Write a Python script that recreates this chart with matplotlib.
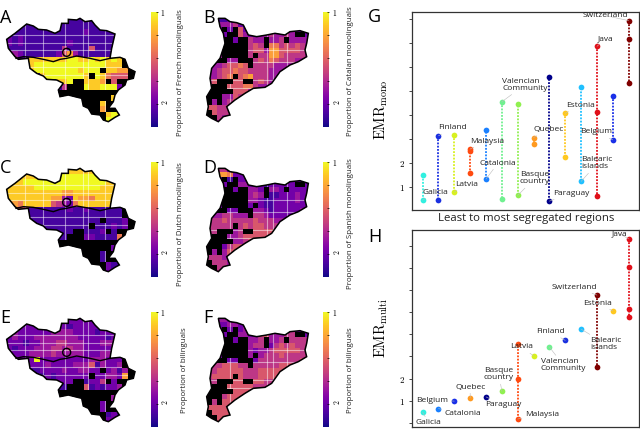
import matplotlib
matplotlib.use("Agg")
import matplotlib.pyplot as plt
import numpy as np
from matplotlib.cm import ScalarMappable
from matplotlib.colors import Normalize
from matplotlib.patches import Polygon, Circle

plt.rcParams['font.family'] = ['Open Sans', 'DejaVu Sans']
plt.rcParams['mathtext.fontset'] = 'cm'

# outlines, in map units
belgium = [(20,118),(45,100),(80,72),(100,78),(115,88),(140,90),(165,100),(180,92),(185,70),(205,70),(205,58),
           (230,60),(240,55),(255,65),(275,62),(285,75),(300,90),(320,92),(345,102),(335,145),(330,175),(360,172),
           (375,178),(385,205),(405,215),(400,235),(380,240),(375,255),(355,270),(345,285),(340,305),(325,325),
           (345,325),(358,345),(345,352),(325,365),(310,360),(300,345),(275,342),(265,325),(250,318),(245,295),
           (225,290),(205,285),(180,290),(175,270),(190,250),(170,240),(140,238),(130,228),(110,220),(90,205),
           (85,175),(55,178),(45,170),(25,145)]
lang_border = [(48,175),(70,170),(100,172),(130,178),(160,185),(180,178),(200,175),(230,168),(270,175),(300,182),(330,175)]
catalonia = [(85,55),(105,55),(120,65),(140,68),(160,75),(175,105),(200,110),(230,105),(255,100),(285,105),(300,95),
             (330,92),(355,100),(350,130),(345,150),(350,170),(325,185),(300,195),(270,215),(245,250),(225,262),
             (190,265),(165,280),(135,300),(110,320),(120,345),(100,350),(85,365),(65,355),(50,345),(55,320),
             (50,290),(65,265),(60,235),(65,205),(90,175),(105,130),(100,100),(90,80)]

# '#' = no data (black)
bel_mask = ["........................"] * 7 + [
    ".....................###",
    ".....................###",
    ".................#....##",
    "...............#......##",
    "............##....#.####",
    "...........###.......###",
    "########################",
    "###################.####",
    "#################.######",
    "#################.######",
    "##################...###",
    "##################...###"]
cat_mask = ["...................."] * 2 + [
    "...#.#..............",
    "....##...........##.",
    "...##.##...#...#....",
    "...#####...#........",
    "...#####............",
    "...#####.#..........",
    "..##..###...........",
    "........#...........",
    "....................",
    ".....#..............",
    "..###..##...........",
    ".###................",
    "#####...............",
    "###.................",
    "#.#.................",
    "....................",
    "#...................",
    "##..................",
    "...................."]

# cell values, 0-9 = ninths of the proportion
french = ["111111111111111111111111",
          "211111111111111111111111",
          "211111111111112111111111",
          "212111111111111111111111",
          "212111111112111111111111",
          "111111111141111511111111",
          "332111111257311111111111",
          "441188888889988989898888",
          "111189999999999999888788",
          "111189999999989998887788",
          "111111899999998998655578",
          "111111111889998887756888",
          "111111111149999889992268",
          "111111111111111111111111",
          "111111111111111111181111",
          "111111111111111118111111",
          "111111111111111117111111",
          "111111111111111111899111",
          "111111111111111111999111"]
dutch = ["888888888888888888888888",
         "888888888999999998888888",
         "888999999999999999888888",
         "888889999999999998888888",
         "888888888877888888888888",
         "888888887732877688888888",
         "776888885432688888888888",
         "445511111112112111111111",
         "111111111111111111111211",
         "111111111111111111111211",
         "111111111111111111121211",
         "111111111111111112211111",
         "111111111111112211116611",
         "111111111111111111111111",
         "111111111111111111121111",
         "111111111111111111111111",
         "111111111111111111111111",
         "111111111111111111211111",
         "111111111111111111211111"]
bilingual = ["222222222222222222222222",
             "222222222221222222222222",
             "332222223333222212222222",
             "232223333333322222122222",
             "222122333443332223334222",
             "212223334434332222233222",
             "322233334333332223322222",
             "332229222222222333222222",
             "111122232222333513223622",
             "111111222232233222231322",
             "111112121222222322332711",
             "111111111222231224125311",
             "111111111111115121223311",
             "111111111111111111111111",
             "111111111111111111131111",
             "111111111111111112111111",
             "111111111111111112111111",
             "111111111111111111121111",
             "111111111111111111222111"]
catalan = ["22112222222222222222",
           "22333422222222222222",
           "22232352222222222222",
           "22223353223343343322",
           "22424233433433433333",
           "33333333454366454543",
           "33333333455377555543",
           "33333333454477544443",
           "33443333545465444333",
           "33345565344443333222",
           "33455655444433322222",
           "33456556744433222222",
           "45554557545433222222",
           "44555556643332222222",
           "44445555332222222222",
           "33333544322222222222",
           "33434533222222222222",
           "55444322222222222222",
           "35444322222222222222",
           "33432222222222222222",
           "33333222222222222222"]
spanish = ["22442222222222222222",
           "22776222222222222222",
           "22131322222222222222",
           "22222233222122222222",
           "22212222332233222222",
           "22222222343211222322",
           "22222222332112222322",
           "22222222222112222222",
           "22332222333212222233",
           "33344333344322222352",
           "34454444454443335533",
           "44444445455444554333",
           "44433345555555533333",
           "33333345555553333333",
           "33332334553333333333",
           "33324554333333333333",
           "33335533333333333333",
           "44433333333333333333",
           "44443333333333333333",
           "44444333333333333333",
           "33443333333333333333"]
bilingual_f = ["22332222222222222222",
               "22223322222222222222",
               "22222423222222222222",
               "22222233225533344322",
               "22424222334433444444",
               "22222222344324545444",
               "22222222323345555544",
               "22222222323444544444",
               "22422222224444444455",
               "44455544444444555544",
               "44555554445555555444",
               "45555554445555544444",
               "44555555555444444444",
               "44455555544444444444",
               "44445555554444444444",
               "44445555444444444444",
               "44555544444444444444",
               "55555544444444444444",
               "25555544444444444444",
               "44555544444444444444",
               "55555544444444444444"]

bel_xlines = [75, 130, 195, 250, 265, 315]
bel_ylines = [105, 128, 150, 200, 225]
cat_xlines = [120, 230, 250, 290]
cat_ylines = [150, 185, 240, 265]

# G / H : first value of each region is the one that gets the label
mono_regions = ["Galicia", "Finland", "Latvia", "Malaysia", "Catalonia", "Valencian\nCommunity", "Basque\ncountry",
                "Quebec", "Paraguay", "Estonia", "Balearic\nislands", "Java", "Belgium", "Switzerland"]
mono_values = [[0.44, 1.50], [3.12, 0.43], [0.78, 3.17], [2.57, 2.49, 1.58], [1.32, 3.38], [4.54, 0.48], [0.64, 4.44],
               [3.05, 2.77], [0.40, 5.57], [4.06, 2.25], [1.22, 5.14], [6.85, 4.12, 0.60], [2.95, 4.76],
               [7.92, 7.17, 5.33]]
mono_colors = ['#30f0e0', '#1a30e0', '#d8f020', '#ff4a10', '#1a80ff', '#70f090', '#90f050', '#ff9a20', '#00008b',
               '#ffc820', '#20c0ff', '#e0101a', '#1a30e8', '#800000']
mono_offsets = [(13,8),(14,8),(12,8),(17,8),(12,16),(23,17),(17,17),(15,8),(22,8),(15,8),(16,18),(9,8),(-17,8),(-23,5)]

multi_regions = ["Galicia", "Catalonia", "Belgium", "Quebec", "Paraguay", "Basque\ncountry", "Malaysia", "Latvia",
                 "Valencian\nCommunity", "Finland", "Balearic\nislands", "Switzerland", "Estonia", "Java"]
multi_values = [[0.49], [0.64], [0.98], [1.12], [1.17], [1.42], [0.17, 1.99, 3.57], [3.02], [3.42], [3.72], [4.23],
                [5.77, 2.52], [5.05], [8.31, 7.02, 5.14, 4.79]]
multi_colors = ['#30f0e0', '#1a80ff', '#1a30e8', '#ff9a20', '#00008b', '#90f050', '#ff4a10', '#d8f020', '#70f090',
                '#1a30e0', '#20c0ff', '#800000', '#ffc820', '#e0101a']
multi_offsets = [(6,-11),(24,-5),(-22,1),(0,11),(17,-8),(-3,17),(24,5),(-12,9),(14,-18),(-15,9),(25,-15),(-23,8),(-15,8),(-9,5)]

W, H = 640, 429
fig = plt.figure(figsize=(6.4, 4.29), dpi=100)
cmap = plt.get_cmap('plasma')


def rect(x0, y0, x1, y1):
    # pixel box, y from the top -> figure fractions
    return [x0 / W, 1 - y1 / H, (x1 - x0) / W, (y1 - y0) / H]


def draw_map(x, y, outline, rows, mask, cell, origin, xlines, ylines, border=None):
    ax = fig.add_axes(rect(x, y, x + 145, y + 140))
    ax.set_xlim(0, 435)
    ax.set_ylim(420, 0)
    ax.axis('off')
    clip = Polygon(outline, closed=True, transform=ax.transData)
    vals = np.array([[int(c) / 9 for c in r] for r in rows])
    black = np.ma.masked_where(np.array([[c != '#' for c in r] for r in mask]), np.ones(vals.shape))
    xe = origin[0] + cell * np.arange(vals.shape[1] + 1)
    ye = origin[1] + cell * np.arange(vals.shape[0] + 1)
    ax.add_patch(Polygon(outline, closed=True, fc='black', ec='none', zorder=1))
    m = ax.pcolormesh(xe, ye, vals, cmap=cmap, vmin=0, vmax=1, zorder=2, linewidth=0)
    m.set_clip_path(clip)
    for v in xlines:
        ax.axvline(v, color='white', lw=0.8, alpha=0.5, zorder=3).set_clip_path(clip)
    for v in ylines:
        ax.axhline(v, color='white', lw=0.8, alpha=0.5, zorder=3).set_clip_path(clip)
    b = ax.pcolormesh(xe, ye, black, cmap='gray', vmin=1, vmax=2, zorder=4, linewidth=0)
    b.set_clip_path(clip)
    ax.add_patch(Polygon(outline, closed=True, fc='none', ec='black', lw=1.1, zorder=5))
    if border is not None:
        xs, ys = zip(*border)
        ax.plot(xs, ys, color='black', lw=1.0, zorder=5)
        ax.add_patch(Circle((200, 157), 12, fc='none', ec='black', lw=1.0, zorder=5))


def draw_cbar(x, y0, y1, label, label_x, label_y):
    cax = fig.add_axes(rect(x, y0, x + 6.5, y1))
    cb = fig.colorbar(ScalarMappable(Normalize(0, 1), cmap), cax=cax)
    cb.outline.set_visible(False)
    cb.set_ticks([0.2, 0.4, 0.6, 0.8, 1.0])
    cb.set_ticklabels(['$2$', '', '', '', '$1$'])
    cax.tick_params(length=1.2, width=0.5, pad=2, labelsize=5.5, direction='in')
    cax.get_yticklabels()[0].set_rotation(90)
    fig.text(label_x / W, 1 - label_y / H, label, rotation=90, ha='center', va='center', fontsize=5.7, color='#222222')


draw_map(0, 0, belgium, french, bel_mask, 16.5, (20, 55), bel_xlines, bel_ylines, lang_border)
draw_map(0, 150, belgium, dutch, bel_mask, 16.5, (20, 55), bel_xlines, bel_ylines, lang_border)
draw_map(0, 300, belgium, bilingual, bel_mask, 16.5, (20, 55), bel_xlines, bel_ylines, lang_border)
draw_map(190, 0, catalonia, catalan, cat_mask, 15.5, (50, 50), cat_xlines, cat_ylines)
draw_map(190, 150, catalonia, spanish, cat_mask, 15.5, (50, 50), cat_xlines, cat_ylines)
draw_map(190, 300, catalonia, bilingual_f, cat_mask, 15.5, (50, 50), cat_xlines, cat_ylines)

draw_cbar(151, 12, 127, "Proportion of French monolinguals", 181, 73)
draw_cbar(323, 12, 127, "Proportion of Catalan monolinguals", 350, 71)
draw_cbar(151, 162, 277, "Proportion of Dutch monolinguals", 181, 224)
draw_cbar(323, 162, 277, "Proportion of Spanish monolinguals", 350, 224)
draw_cbar(151, 312, 427, "Proportion of bilinguals", 185, 370)
draw_cbar(323, 312, 427, "Proportion of bilinguals", 351, 370)

for letter, px, py in [('A', 0, 23), ('B', 203, 23), ('C', 0, 173), ('D', 203, 173), ('E', 0, 323), ('F', 203, 323),
                       ('G', 368, 22), ('H', 368, 242)]:
    fig.text(px / W, 1 - py / H, letter, fontsize=13, color='black', ha='left', va='baseline')


def draw_scatter(box, regions, values, colors, offsets, ylim, yticks, ylabel, ylabel_y):
    ax = fig.add_axes(rect(*box))
    for i, (name, vs, col, off) in enumerate(zip(regions, values, colors, offsets)):
        xs = [i] * len(vs)
        if len(vs) > 1:
            ax.plot(xs, vs, color=col, lw=1.3, ls=(0, (1, 0.8)), zorder=2)
        ax.scatter(xs, vs, s=17, color=col, linewidths=0, zorder=3)
        ax.annotate(name, (i, vs[0]), xytext=off, textcoords='offset pixels', ha='center', va='center',
                    fontsize=6, color='#222222', linespacing=1.0, multialignment='left', zorder=4,
                    arrowprops=dict(arrowstyle='-', color='#bbbbbb', lw=0.4, shrinkA=0, shrinkB=0))
    ax.set_xlim(-0.67, 13.65)
    ax.set_ylim(*ylim)
    ax.set_xticks([])
    ax.set_yticks(yticks)
    ax.set_yticklabels(['$%d$' % t if t in (1, 2) else '' for t in yticks], fontsize=6.5)
    ax.tick_params(axis='y', length=2, width=0.5, pad=3)
    for s in ax.spines.values():
        s.set_color('#333333')
        s.set_linewidth(0.9)
    fig.text(381 / W, 1 - ylabel_y / H, ylabel, rotation=90, ha='center', va='center', fontsize=10.5)
    return ax


draw_scatter((412, 12, 639, 210), mono_regions, mono_values, mono_colors, mono_offsets, (0.03, 8.28),
             list(range(1, 9)), r'$\mathrm{EMR}_{\mathrm{mono}}$', 110)
draw_scatter((412, 230, 639, 427), multi_regions, multi_values, multi_colors, multi_offsets, (-0.19, 8.71),
             list(range(0, 9)), r'$\mathrm{EMR}_{\mathrm{multi}}$', 328)
fig.text(526 / W, 1 - 218.5 / H, "Least to most segregated regions", ha='center', va='center', fontsize=8.2, color='#222222')

fig.savefig('out.png', dpi=100)
